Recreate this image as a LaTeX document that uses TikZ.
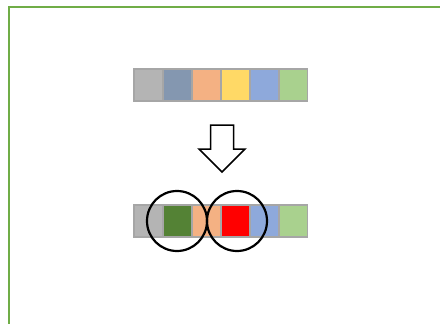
\documentclass[tikz,border=0pt]{standalone}
\definecolor{frameg}{HTML}{70AD47}
\definecolor{barbg}{HTML}{A6A6A6}
\definecolor{cgray}{HTML}{B4B4B4}
\definecolor{cslate}{HTML}{8497B0}
\definecolor{corange}{HTML}{F4B183}
\definecolor{cyellow}{HTML}{FFD966}
\definecolor{cblue}{HTML}{8EA9DB}
\definecolor{cgreen}{HTML}{A9D18E}
\definecolor{cdgreen}{HTML}{548235}
\definecolor{cred}{HTML}{FF0000}
\begin{document}
\begin{tikzpicture}[x=1pt,y=-1pt,
  cell/.style={draw=none,minimum width=27pt,minimum height=30pt,inner sep=0pt,outer sep=0pt},
  bar/.style={fill=barbg},
  ring/.style={draw=black,line width=2.2pt,circle,minimum size=60pt,inner sep=0pt},
  bigarrow/.style={draw=black,line width=1.5pt,fill=white,line join=miter}]
\useasboundingbox (0,0) rectangle (440,324);
\fill[white] (0,0) rectangle (440,324);
% frame (top and left edges)
\draw[frameg,line width=2.5pt] (9,324) -- (9,7) -- (440,7);
% top bar
\fill[bar] (133,68) rectangle (308,102);
\foreach \c [count=\i from 0] in {cgray,cslate,corange,cyellow,cblue,cgreen}{
  \node[cell,fill=\c,anchor=north west] (t\i) at (135+29*\i,70) {};
}
% arrow
\draw[bigarrow] (210.5,125) -- (233.5,125) -- (233.5,149) -- (245,149) -- (222,172) -- (199,149) -- (210.5,149) -- cycle;
% bottom bar
\fill[bar] (133,204) rectangle (308,238);
\foreach \c [count=\i from 0] in {cgray,cdgreen,corange,cred,cblue,cgreen}{
  \node[cell,fill=\c,anchor=north west] (b\i) at (135+29*\i,206) {};
}
% circles
\node[ring] (r1) at (177,221) {};
\node[ring] (r2) at (237,221) {};
\end{tikzpicture}
\end{document}
